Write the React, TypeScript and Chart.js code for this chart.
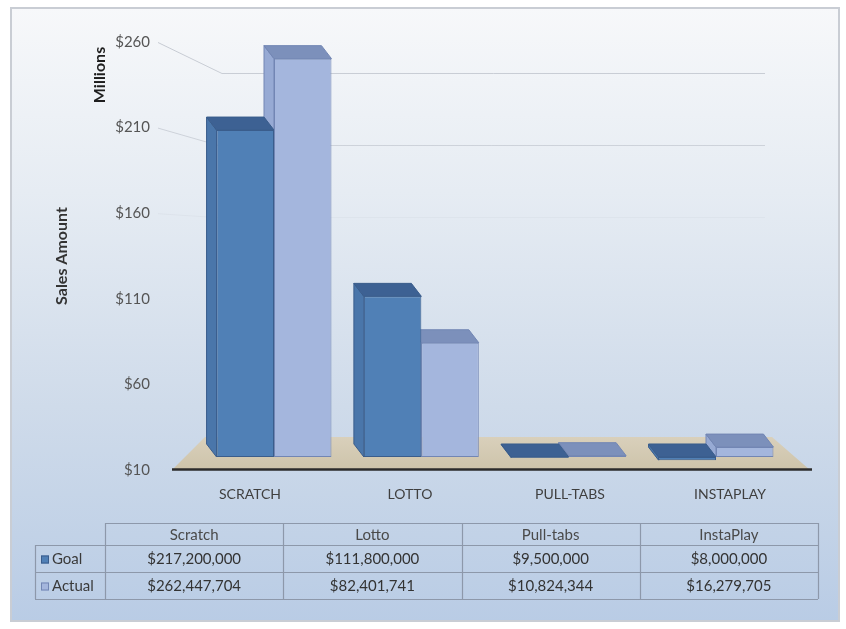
import React, { useEffect, useRef } from "react";
import { Chart, registerables } from "chart.js";

Chart.register(...registerables);

// ---------- data ----------
const categories = ["SCRATCH", "LOTTO", "PULL-TABS", "INSTAPLAY"];
const tableHeaders = ["Scratch", "Lotto", "Pull-tabs", "InstaPlay"];
const seriesNames = ["Goal", "Actual"];
const goalSales = [217200000, 111800000, 9500000, 8000000];
const actualSales = [262447704, 82401741, 10824344, 16279705];
const yTickValues = [10, 60, 110, 160, 210, 260];

// ---------- styles ----------
const FONT = "Lato, 'Open Sans', 'DejaVu Sans', sans-serif";
const W = 846;
const H = 629;
const COLORS = [
  { front: "#5080b6", side: "#4a76aa", top: "#3d6193", edge: "#3a5d8c" },
  { front: "#a4b6dd", side: "#97aad4", top: "#7c90bb", edge: "#7286b4" },
];
const DEPTH = { dx: 10, dy: 13 };

const toMillions = (v: number) => v / 1e6;
const fmtMoney = (v: number) => "$" + v.toLocaleString("en-US");

const decorPlugin = {
  id: "decor",
  beforeDraw(chart: any) {
    const ctx = chart.ctx as CanvasRenderingContext2D;
    ctx.save();
    ctx.fillStyle = "#ffffff";
    ctx.fillRect(0, 0, W, H);
    const fx = 10, fy = 7, fw = 830, fh = 615;
    const g = ctx.createLinearGradient(0, fy, 0, fy + fh);
    g.addColorStop(0, "#f7f8fa");
    g.addColorStop(0.3, "#e6ecf3");
    g.addColorStop(0.65, "#cfdbea");
    g.addColorStop(1, "#b9cce5");
    ctx.fillStyle = g;
    ctx.fillRect(fx, fy, fw, fh);
    ctx.strokeStyle = "#c9cdd4";
    ctx.lineWidth = 2;
    ctx.strokeRect(fx + 1, fy + 1, fw - 2, fh - 2);
    ctx.restore();
  },
  beforeDatasetsDraw(chart: any) {
    const ctx = chart.ctx as CanvasRenderingContext2D;
    const ca = chart.chartArea;
    const y = chart.scales.y;
    ctx.save();
    // walls / gridlines (fade out toward the bluer lower background)
    const backTop = ca.top + 31;
    const backBottom = ca.bottom - 37;
    const k = (backBottom - backTop) / (ca.bottom - ca.top);
    const backLeftTop = ca.left + 52;
    const backLeftBottom = ca.left + 35;
    const backRight = ca.right - 45;
    const lg = ctx.createLinearGradient(0, ca.top, 0, ca.bottom);
    lg.addColorStop(0, "rgba(190,195,204,0.85)");
    lg.addColorStop(0.3, "rgba(190,195,204,0.6)");
    lg.addColorStop(0.45, "rgba(190,195,204,0)");
    lg.addColorStop(1, "rgba(190,195,204,0)");
    ctx.strokeStyle = lg;
    ctx.lineWidth = 1;
    y.ticks.forEach((t: any) => {
      const py = y.getPixelForValue(t.value);
      const by = backTop + (py - ca.top) * k;
      const f = (by - backTop) / (backBottom - backTop);
      const bx = backLeftTop + (backLeftBottom - backLeftTop) * f;
      ctx.beginPath();
      ctx.moveTo(ca.left - 12, py + 0.5);
      ctx.lineTo(bx, by + 0.5);
      ctx.lineTo(backRight, by + 0.5);
      ctx.stroke();
    });
    // floor
    const fg = ctx.createLinearGradient(0, ca.bottom - 33, 0, ca.bottom);
    fg.addColorStop(0, "#d9d0bb");
    fg.addColorStop(1, "#cdc3aa");
    ctx.fillStyle = fg;
    ctx.beginPath();
    ctx.moveTo(ca.left + 2, ca.bottom);
    ctx.lineTo(ca.right, ca.bottom);
    ctx.lineTo(ca.right - 38, ca.bottom - 33);
    ctx.lineTo(ca.left + 35, ca.bottom - 33);
    ctx.closePath();
    ctx.fill();
    // axis line
    ctx.strokeStyle = "#2b2b2b";
    ctx.lineWidth = 2.5;
    ctx.beginPath();
    ctx.moveTo(ca.left + 2, ca.bottom - 0.5);
    ctx.lineTo(ca.right + 2, ca.bottom - 0.5);
    ctx.stroke();

    // 3D side and top faces of bars
    const { dx, dy } = DEPTH;
    for (let j = 0; j < categories.length; j++) {
      for (const di of [1, 0]) {
        const el = chart.getDatasetMeta(di).data[j];
        if (!el) continue;
        const p = el.getProps(["x", "y", "base", "width"], true);
        const x1 = p.x - p.width / 2;
        const x2 = p.x + p.width / 2;
        const top = Math.min(p.y, p.base);
        const bot = Math.max(p.y, p.base);
        const c = COLORS[di];
        ctx.lineWidth = 1;
        ctx.strokeStyle = c.edge;
        // left side face
        ctx.fillStyle = c.side;
        ctx.beginPath();
        ctx.moveTo(x1, top);
        ctx.lineTo(x1 - dx, top - dy);
        ctx.lineTo(x1 - dx, bot - dy);
        ctx.lineTo(x1, bot);
        ctx.closePath();
        ctx.fill();
        ctx.stroke();
        // top face
        ctx.fillStyle = c.top;
        ctx.beginPath();
        ctx.moveTo(x1, top);
        ctx.lineTo(x2, top);
        ctx.lineTo(x2 - dx, top - dy);
        ctx.lineTo(x1 - dx, top - dy);
        ctx.closePath();
        ctx.fill();
        ctx.stroke();
      }
    }
    ctx.restore();
  },
  afterDraw(chart: any) {
    const ctx = chart.ctx as CanvasRenderingContext2D;
    ctx.save();
    // "Millions" unit label
    ctx.translate(100, 75);
    ctx.rotate(-Math.PI / 2);
    ctx.fillStyle = "#1e1e1e";
    ctx.font = `bold 16px ${FONT}`;
    ctx.textAlign = "center";
    ctx.textBaseline = "middle";
    ctx.fillText("Millions", 0, 0);
    ctx.restore();

    // data table
    ctx.save();
    const left = 35, colStart = 105, right = 818;
    const rows = [523, 545, 572, 599];
    const colW = (right - colStart) / tableHeaders.length;
    ctx.strokeStyle = "#8d98aa";
    ctx.lineWidth = 1.2;
    const line = (ax: number, ay: number, bx: number, by: number) => {
      ctx.beginPath();
      ctx.moveTo(ax, ay);
      ctx.lineTo(bx, by);
      ctx.stroke();
    };
    line(colStart, rows[0] + 0.5, right, rows[0] + 0.5);
    for (let r = 1; r < rows.length; r++) line(left, rows[r] + 0.5, right, rows[r] + 0.5);
    line(left + 0.5, rows[1], left + 0.5, rows[3]);
    for (let c = 0; c <= tableHeaders.length; c++) {
      const x = Math.round(colStart + c * colW) + 0.5;
      line(x, rows[0], x, rows[3]);
    }
    ctx.textAlign = "center";
    ctx.textBaseline = "middle";
    ctx.font = `15px ${FONT}`;
    ctx.fillStyle = "#4a4a4a";
    tableHeaders.forEach((h, c) => {
      ctx.fillText(h, colStart + (c + 0.5) * colW, (rows[0] + rows[1]) / 2 + 1);
    });
    const series = [goalSales, actualSales];
    ctx.fillStyle = "#333333";
    series.forEach((vals, r) => {
      const cy = (rows[r + 1] + rows[r + 2]) / 2 + 1;
      vals.forEach((v, c) => {
        ctx.fillText(fmtMoney(v), colStart + (c + 0.5) * colW, cy);
      });
      // legend key
      const sw = 8;
      ctx.fillStyle = COLORS[r].front;
      ctx.fillRect(41, cy - sw / 2, sw, sw);
      ctx.strokeStyle = COLORS[r].edge;
      ctx.lineWidth = 1;
      ctx.strokeRect(41.5, cy - sw / 2 + 0.5, sw - 1, sw - 1);
      ctx.textAlign = "left";
      ctx.fillStyle = "#3a3a3a";
      ctx.fillText(seriesNames[r], 52, cy);
      ctx.textAlign = "center";
      ctx.fillStyle = "#333333";
    });
    ctx.restore();
  },
};

export default function App() {
  const ref = useRef<HTMLCanvasElement>(null);
  useEffect(() => {
    document.body.style.margin = "0";
    document.body.style.overflow = "hidden";
    const canvas = ref.current!;
    const chart = new Chart(canvas, {
      type: "bar",
      data: {
        labels: categories,
        datasets: [goalSales, actualSales].map((vals, di) => ({
          label: seriesNames[di],
          data: vals.map((v, i) => ({ x: i, y: toMillions(v) })),
          xAxisID: "xBar",
          yAxisID: "yBar",
          base: 10,
          backgroundColor: COLORS[di].front,
          borderColor: COLORS[di].edge,
          borderWidth: 1,
          borderSkipped: false,
          categoryPercentage: 0.78,
          barPercentage: 1,
        })) as any,
      },
      options: {
        responsive: false,
        animation: false,
        devicePixelRatio: 1,
        layout: { padding: { top: 42, right: 36, bottom: 0, left: 0 } },
        plugins: { legend: { display: false }, tooltip: { enabled: false } },
        scales: {
          x: {
            type: "category",
            position: "bottom",
            grid: { display: false, drawTicks: false },
            border: { display: false },
            ticks: {
              font: { family: FONT, size: 14 },
              color: "#3f3f3f",
              padding: 16,
              maxRotation: 0,
              autoSkip: false,
            },
            afterFit: (s: any) => {
              s.height = 159;
            },
          },
          y: {
            type: "linear",
            position: "left",
            min: 10,
            max: 260,
            grid: { display: false, drawTicks: false },
            border: { display: false },
            afterBuildTicks: (s: any) => {
              s.ticks = yTickValues.map((v) => ({ value: v }));
            },
            ticks: {
              font: { family: FONT, size: 15 },
              color: "#555555",
              padding: 20,
              callback: (v: any) => "$" + v,
            },
            title: {
              display: true,
              text: "Sales Amount",
              font: { family: FONT, size: 16, weight: "bold" },
              color: "#333333",
              padding: { top: 52, bottom: 0 },
            },
            afterFit: (s: any) => {
              s.width = 170;
            },
          },
          xBar: {
            type: "linear",
            display: false,
            position: "bottom",
            offset: false,
            grid: { offset: false },
            min: -0.706,
            max: 3.638,
            afterBuildTicks: (s: any) => {
              s.ticks = categories.map((_, i) => ({ value: i }));
            },
          },
          yBar: { type: "linear", display: false, position: "left", min: 1.76, max: 273 },
        } as any,
      },
      plugins: [decorPlugin],
    });
    return () => chart.destroy();
  }, []);
  return (
    <div style={{ width: W, height: H }}>
      <canvas ref={ref} width={W} height={H} style={{ display: "block", width: W, height: H }} />
    </div>
  );
}
